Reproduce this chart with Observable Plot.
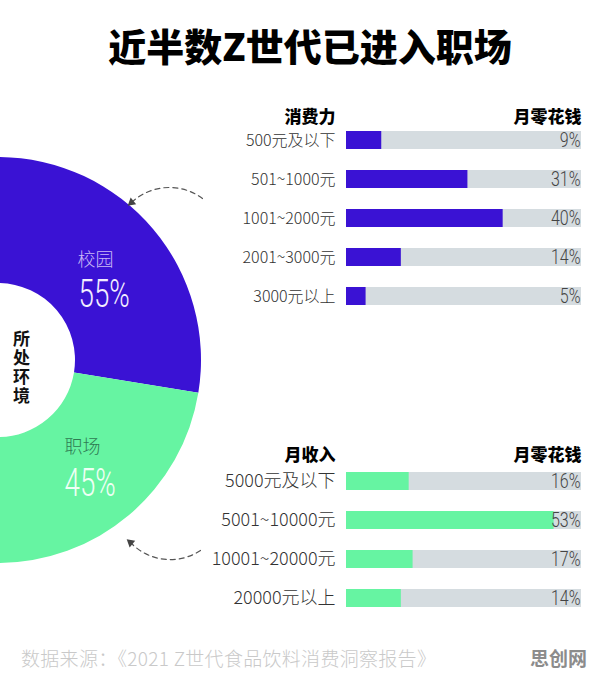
<!DOCTYPE html>
<html><head><meta charset="utf-8">
<script src="https://cdn.jsdelivr.net/npm/d3@7"></script>
<script src="https://cdn.jsdelivr.net/npm/@observablehq/plot@0.6"></script>
<style>
body{margin:0;background:#fff;}
#page{position:relative;width:596px;height:683px;overflow:hidden;font-family:"Noto Sans CJK SC",sans-serif;background:#fff;}
.abs{position:absolute;}
#title{left:0;top:21px;width:596px;padding-left:24px;box-sizing:border-box;text-align:center;font-size:38px;font-weight:900;line-height:48px;color:#000;white-space:nowrap;}
#caption{left:21px;top:646px;font-size:19px;letter-spacing:0.3px;color:#c9c9c9;line-height:24px;white-space:nowrap;font-weight:300;}
#mark{left:530px;top:646px;font-size:19px;font-weight:700;color:#8c8c8c;line-height:24px;}
svg{overflow:visible;}
</style></head>
<body>
<div id="page">
  <div id="title" class="abs"></div>
  <div id="donut" class="abs" style="left:0;top:130px;"></div>
  <div id="spend" class="abs" style="left:200px;top:97px;"></div>
  <div id="income" class="abs" style="left:200px;top:440px;"></div>
  <div id="caption" class="abs"></div>
  <div id="mark" class="abs"></div>
</div>
<script>
// ---- data ----
const titleText = "近半数Z世代已进入职场";
const envTitle = "所处环境";
const envCategories = ["校园", "职场"];
const envValues = [55, 45];
const spendHeader = ["消费力", "月零花钱"];
const spendCategories = ["500元及以下", "501~1000元", "1001~2000元", "2001~3000元", "3000元以上"];
const spendValues = [9, 31, 40, 14, 5];
const incomeHeader = ["月收入", "月零花钱"];
const incomeCategories = ["5000元及以下", "5001~10000元", "10001~20000元", "20000元以上"];
const incomeValues = [16, 53, 17, 14];
const captionText = "数据来源：《2021 Z世代食品饮料消费洞察报告》";
const watermark = "思创网";

// ---- style ----
const purple = "#3a12d4", green = "#66f4a2", track = "#d5dce0";
const envColors = [purple, green];
const envNameColors = ["#c9b9f6", "#2f7a52"];
const envValueColors = ["#f3eeff", "#effff5"];
const xMax = 60;
const cjk = "'Noto Sans CJK SC', sans-serif";
const narrow = "Roboto, sans-serif";

document.getElementById("title").textContent = titleText;
document.getElementById("caption").textContent = captionText;
document.getElementById("mark").textContent = watermark;

function squeeze(svg, factor) {
  svg.querySelectorAll('g[font-family^="Roboto"] text').forEach((t) => {
    const L = t.getComputedTextLength();
    t.setAttribute("textLength", (L * factor).toFixed(2));
    t.setAttribute("lengthAdjust", "spacingAndGlyphs");
  });
}

// ---- donut ----
const center = [-2, 360], rOut = 203, rIn = 77;
const boundary = 99.3 * Math.PI / 180;
const total = d3.sum(envValues);
const start0 = boundary - 2 * Math.PI * envValues[0] / total;
const labelOffsets = [[79, -100, 80, -66], [66, 87, 66, 123]];
const envLabels = envCategories.map((c, i) => ({
  name: c, value: envValues[i] + "%",
  nx: center[0] + labelOffsets[i][0], ny: center[1] + labelOffsets[i][1],
  vx: center[0] + labelOffsets[i][2], vy: center[1] + labelOffsets[i][3], i
}));
const arrowTop = [{x1: 202, y1: 198, x2: 131, y2: 202, rot: 230}];
const arrowBottom = [{x1: 200, y1: 550, x2: 130, y2: 542, rot: 310}];

const donut = Plot.plot({
  width: 230, height: 460, margin: 0,
  x: {domain: [0, 230], range: [0, 230], axis: null},
  y: {domain: [130, 590], range: [0, 460], axis: null},
  style: {background: "transparent", overflow: "visible"},
  marks: [
    (index, scales) => {
      const sx = scales && scales.x ? scales.x : (v) => v;
      const sy = scales && scales.y ? scales.y : (v) => v - 130;
      const arcs = d3.pie().sort(null).startAngle(start0).endAngle(start0 + 2 * Math.PI)(envValues);
      const arc = d3.arc().innerRadius(rIn).outerRadius(rOut);
      const g = d3.create("svg:g").attr("transform", `translate(${sx(center[0])},${sy(center[1])})`);
      g.selectAll("path").data(arcs).join("path").attr("d", arc).attr("fill", (d, i) => envColors[i]);
      return g.node();
    },
    Plot.text([envTitle], {x: center[0] + 23, y: center[1] + 2, text: (d) => d,
      fontSize: 17, fontWeight: 700, fill: "#111", fontFamily: cjk}),
    Plot.text(envLabels, {x: "nx", y: "ny", text: "name", textAnchor: "start", fontSize: 18, fontWeight: 300,
      fill: (d) => envNameColors[d.i], fontFamily: cjk}),
    Plot.text(envLabels, {x: "vx", y: "vy", text: "value", textAnchor: "start", fontSize: 38, fontWeight: 300,
      fill: (d) => envValueColors[d.i], fontFamily: narrow}),
    Plot.arrow(arrowTop, {x1: "x1", y1: "y1", x2: "x2", y2: "y2", bend: -40, headLength: 0,
      stroke: "#555", strokeWidth: 1.2, strokeDasharray: "5,4"}),
    Plot.arrow(arrowBottom, {x1: "x1", y1: "y1", x2: "x2", y2: "y2", bend: 40, headLength: 0,
      stroke: "#555", strokeWidth: 1.2, strokeDasharray: "5,4"}),
    Plot.dot([...arrowTop, ...arrowBottom], {x: "x2", y: "y2", symbol: "triangle", r: 3.2, fill: "#444", rotate: "rot"})
  ]
});
document.getElementById("donut").append(donut);
squeeze(donut, 0.73);
// vertical writing for the centre label
donut.querySelectorAll("text").forEach((t) => {
  if (t.textContent === envTitle) {
    t.removeAttribute("dy");
    t.setAttribute("writing-mode", "vertical-rl");
    t.setAttribute("text-anchor", "middle");
    t.style.textOrientation = "upright";
    t.style.letterSpacing = "2px";
  }
});

// ---- bars ----
function barPlot(cats, vals, header, color, fontSize, step, pad, headerDy) {
  const data = cats.map((c, i) => ({cat: c, v: vals[i]}));
  const mt = 10;
  return Plot.plot({
    width: 396, height: mt + (cats.length + pad) * step,
    marginLeft: 146, marginRight: 15, marginTop: mt, marginBottom: 0,
    style: {background: "transparent", overflow: "visible"},
    x: {domain: [0, xMax], axis: null},
    y: {domain: cats, padding: pad, axis: null},
    marks: [
      Plot.barX(data, {y: "cat", x1: 0, x2: xMax, fill: track}),
      Plot.barX(data, {y: "cat", x: "v", fill: color}),
      Plot.axisY({tickSize: 0, tickPadding: 11, fontSize, fill: "#333", fontFamily: cjk, fontWeight: 300, label: null}),
      Plot.text(data, {y: "cat", text: (d) => d.v + "%", frameAnchor: "right", textAnchor: "end", dx: -1,
        fontSize: 20, fontWeight: 300, fill: "#444", fontFamily: narrow}),
      Plot.text([header[0]], {frameAnchor: "top-left", dx: -11, dy: headerDy, textAnchor: "end",
        fontSize: 17, fontWeight: 900, fill: "#000", fontFamily: cjk}),
      Plot.text([header[1]], {frameAnchor: "top-right", dy: headerDy, textAnchor: "end",
        fontSize: 17, fontWeight: 900, fill: "#000", fontFamily: cjk})
    ]
  });
}
const spendPlot = barPlot(spendCategories, spendValues, spendHeader, purple, 16, 39.75, 0.55, 3);
document.getElementById("spend").append(spendPlot);
squeeze(spendPlot, 0.8);
const incomePlot = barPlot(incomeCategories, incomeValues, incomeHeader, green, 18, 39.3, 0.54, -2);
document.getElementById("income").append(incomePlot);
squeeze(incomePlot, 0.8);
</script>
</body></html>
